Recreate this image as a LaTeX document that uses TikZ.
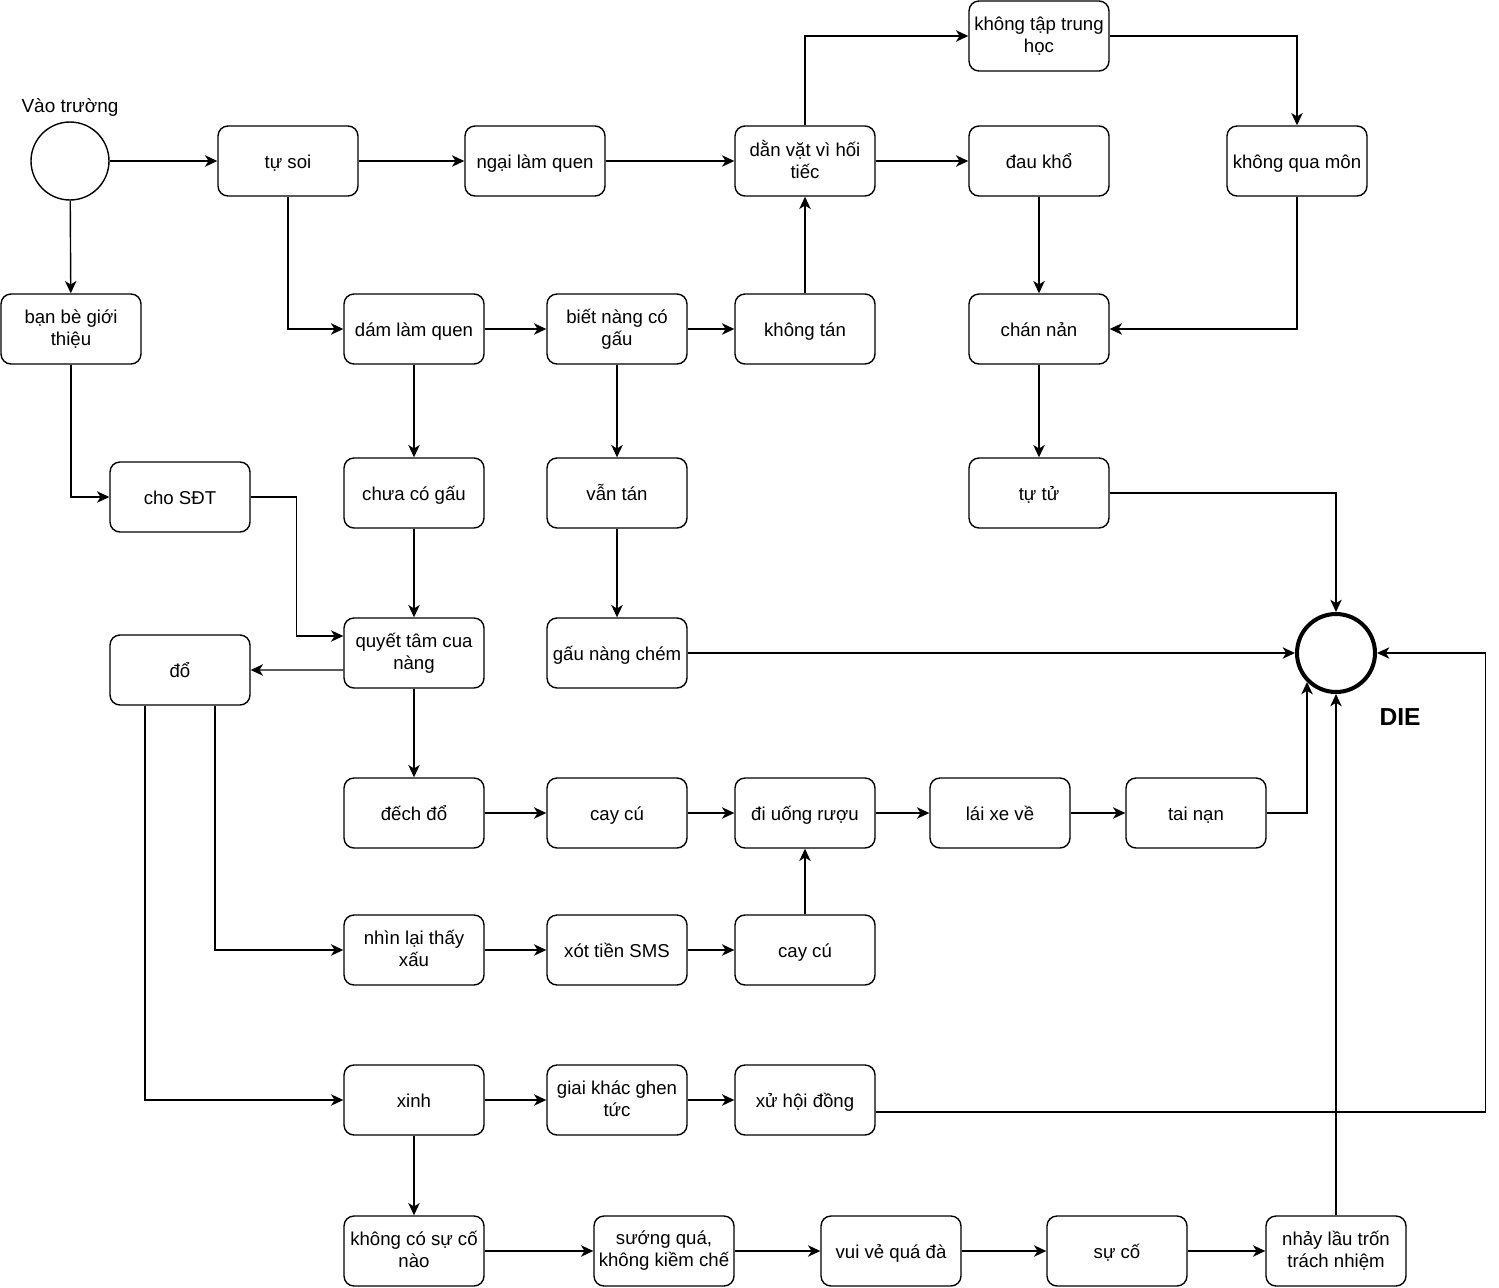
\documentclass[tikz,border=0pt]{standalone}
\usepackage{fontspec}
\setmainfont{Liberation Sans}
\usetikzlibrary{arrows.meta}

\begin{document}
\begin{tikzpicture}[x=0.02cm,y=-0.02cm,
   box/.style={draw,rounded corners=0.2cm,line width=0.8pt,minimum width=2.8cm,
      minimum height=1.4cm,align=center,inner sep=1pt,font=\fontsize{10.6}{12.5}\selectfont,
      execute at begin node=\rule{0pt}{10.5pt},execute at end node=\rule[-2pt]{0pt}{2pt}},
   arr/.style={-{Stealth[length=7pt,width=6.5pt,inset=2pt]},line width=0.8pt}]
   \useasboundingbox (0,0) rectangle (1499,1288);
   \node[draw,circle,minimum size=1.56cm,inner sep=0pt,line width=0.8pt] (start) at (70,161) {};
   \node[font=\fontsize{10.8}{12.5}\selectfont] (vao) at (70,107) {Vào trường};
   \node[draw,circle,minimum size=1.56cm,inner sep=0pt,line width=2.3pt] (die) at (1336,653) {};
   \node[font=\fontsize{14}{16}\selectfont\bfseries] (dielbl) at (1400,717) {DIE};
   \node[box] (tusoi)   at ( 288,161) {tự soi};
   \node[box] (ngai)    at ( 535,161) {ngại làm quen};
   \node[box] (danvat)  at ( 805,161) {dằn vặt vì hối\\tiếc};
   \node[box] (daukho)  at (1039,161) {đau khổ};
   \node[box] (quamon)  at (1297,161) {không qua môn};
   \node[box] (taptrung) at (1039,36) {không tập trung\\học};
   \node[box] (banbe)   at (  71,329) {bạn bè giới\\thiệu};
   \node[box] (dam)     at ( 414,329) {dám làm quen};
   \node[box] (biet)    at ( 617,329) {biết nàng có\\gấu};
   \node[box] (khongtan) at (805,329) {không tán};
   \node[box] (channan) at (1039,329) {chán nản};
   \node[box] (sdt)     at ( 180,497) {cho SĐT};
   \node[box] (chuaco)  at ( 414,493) {chưa có gấu};
   \node[box] (vantan)  at ( 617,493) {vẫn tán};
   \node[box] (tutu)    at (1039,493) {tự tử};
   \node[box] (quyet)   at ( 414,653) {quyết tâm cua\\nàng};
   \node[box] (do)      at ( 180,670) {đổ};
   \node[box] (chem)    at ( 617,653) {gấu nàng chém};
   \node[box] (dechdo)  at ( 414,813) {đếch đổ};
   \node[box] (caycua)  at ( 617,813) {cay cú};
   \node[box] (ruou)    at ( 805,813) {đi uống rượu};
   \node[box] (laixe)   at (1000,813) {lái xe về};
   \node[box] (tainan)  at (1196,813) {tai nạn};
   \node[box] (nhinlai) at ( 414,950) {nhìn lại thấy\\xấu};
   \node[box] (xottien) at ( 617,950) {xót tiền SMS};
   \node[box] (caycub)  at ( 805,950) {cay cú};
   \node[box] (xinh)    at ( 414,1100) {xinh};
   \node[box] (ghen)    at ( 617,1100) {giai khác ghen\\tức};
   \node[box] (xu)      at ( 805,1100) {xử hội đồng};
   \node[box] (khongsuco) at (414,1251) {không có sự cố\\nào};
   \node[box] (suong)   at ( 664,1251) {sướng quá,\\không kiềm chế};
   \node[box] (vuive)   at ( 891,1251) {vui vẻ quá đà};
   \node[box] (suco)    at (1117,1251) {sự cố};
   \node[box] (nhaylau) at (1336,1251) {nhảy lầu trốn\\trách nhiệm};
   \draw[arr] (start) -- (tusoi);
   \draw[arr] (start) -- (banbe);
   \draw[arr] (tusoi) -- (ngai);
   \draw[arr] (ngai) -- (danvat);
   \draw[arr] (danvat) -- (daukho);
   \draw[arr] (danvat.north) |- (taptrung.west);
   \draw[arr] (taptrung.east) -| (quamon.north);
   \draw[arr] (quamon.south) |- (channan.east);
   \draw[arr] (daukho) -- (channan);
   \draw[arr] (channan) -- (tutu);
   \draw[arr] (tutu.east) -| (die.north);
   \draw[arr] (tusoi.south) |- (dam.west);
   \draw[arr] (dam) -- (biet);
   \draw[arr] (biet) -- (khongtan);
   \draw[arr] (khongtan) -- (danvat);
   \draw[arr] (biet) -- (vantan);
   \draw[arr] (vantan) -- (chem);
   \draw[arr] (chem.east) -- (die.west);
   \draw[arr] (dam) -- (chuaco);
   \draw[arr] (chuaco) -- (quyet);
   \draw[arr] (banbe.south) |- (sdt.west);
   \draw[arr] (sdt.east) -- ++(46,0) |- ([yshift=0.34cm]quyet.west);
   \draw[arr] ([yshift=-0.34cm]quyet.west) -- (do.east);
   \draw[arr] (quyet) -- (dechdo);
   \draw[arr] (dechdo) -- (caycua);
   \draw[arr] (caycua) -- (ruou);
   \draw[arr] (ruou) -- (laixe);
   \draw[arr] (laixe) -- (tainan);
   \draw[arr] (tainan.east) -| (die.south west);
   \draw[arr] ([xshift=0.7cm]do.south) |- (nhinlai.west);
   \draw[arr] ([xshift=-0.7cm]do.south) |- (xinh.west);
   \draw[arr] (nhinlai) -- (xottien);
   \draw[arr] (xottien) -- (caycub);
   \draw[arr] (caycub) -- (ruou);
   \draw[arr] (xinh) -- (ghen);
   \draw[arr] (ghen) -- (xu);
   \draw[arr] ([yshift=-0.24cm]xu.east) -- ++(610,0) |- (die.east);
   \draw[arr] (xinh) -- (khongsuco);
   \draw[arr] (khongsuco) -- (suong);
   \draw[arr] (suong) -- (vuive);
   \draw[arr] (vuive) -- (suco);
   \draw[arr] (suco) -- (nhaylau);
   \draw[arr] (nhaylau.north) -- (die.south);
\end{tikzpicture}
\end{document}
